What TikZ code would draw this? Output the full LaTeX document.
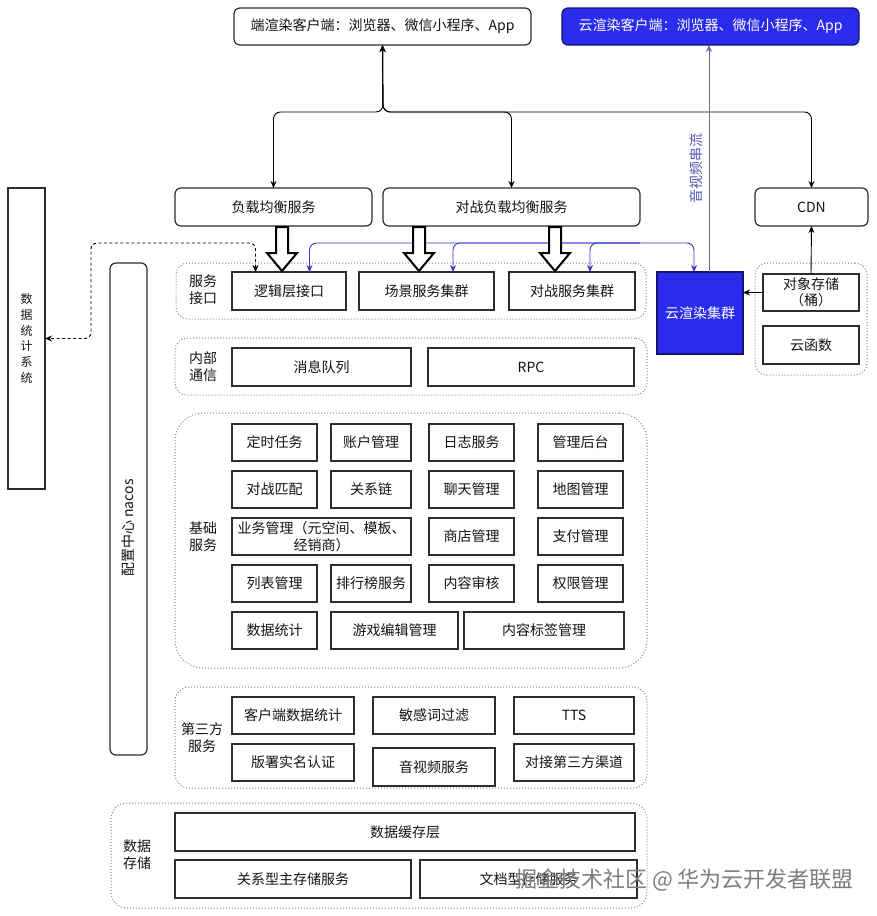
\documentclass[tikz,border=0pt]{standalone}
\usepackage{fontspec}
\setmainfont{Noto Sans CJK SC}
\usetikzlibrary{arrows.meta,calc}
\definecolor{cblue}{RGB}{43,43,235}
\definecolor{cbord}{RGB}{20,20,110}
\definecolor{lblue}{RGB}{55,55,205}
\definecolor{sgray}{RGB}{105,105,165}
\definecolor{stxt}{RGB}{85,85,185}
\definecolor{bord}{RGB}{45,45,45}
\definecolor{dgray}{RGB}{135,135,135}
\definecolor{txt}{RGB}{20,20,20}
\definecolor{wmark}{RGB}{125,125,125}
\tikzset{
  box/.style={draw=bord, line width=1.2pt, inner sep=0pt, outer sep=0pt,
    font=\fontsize{14}{16.5}\selectfont, text=txt, align=center},
  rbox/.style={box, rounded corners=6pt},
  bluebox/.style={box, fill=cblue, draw=cbord, text=white},
  grp/.style={draw=dgray, dotted, line width=1pt, inner sep=0pt, outer sep=0pt},
  glabel/.style={font=\fontsize{14}{17}\selectfont, align=center, inner sep=0pt, text=txt},
  conn/.style={draw=black, line width=0.9pt, rounded corners=7pt},
  bconn/.style={draw=lblue, line width=0.9pt, rounded corners=7pt, -{Stealth[length=7pt,width=6pt]}},
  dconn/.style={draw=black, line width=0.9pt, dash pattern=on 3pt off 2.5pt, rounded corners=6pt,
    {Stealth[length=7pt,width=6pt]}-{Stealth[length=7pt,width=6pt]}},
  bigarrow/.style={draw=black, line width=2pt, fill=white, line join=miter},
}
\newcommand\bx[7][box]{\node[#1, minimum width={(#5-#3)*1pt}, minimum height={(#6-#4)*1pt}] (#2) at ({(#3+#5)/2},{-(#4+#6)/2}) {#7};}
\newcommand\hollowarrow[1]{\draw[bigarrow] ({#1-6},-227) -- ({#1+6},-227) -- ({#1+6},-253) -- ({#1+15},-253) -- (#1,-271) -- ({#1-15},-253) -- ({#1-6},-253) -- cycle;}
\begin{document}
\begin{tikzpicture}[x=1pt,y=1pt]
\useasboundingbox (0,0) rectangle (876,-916);
\fill[white] (0,0) rectangle (876,-916);

% groups
\bx[grp, rounded corners=12pt]{gsvc}{176}{263}{646}{319}{}
\bx[grp, rounded corners=12pt]{gright}{755}{263}{867}{375}{}
\bx[grp, rounded corners=12pt]{gcomm}{175}{338}{647}{395}{}
\bx[grp, rounded corners=28pt]{gbase}{175}{413}{647}{668}{}
\bx[grp, rounded corners=14pt]{gthird}{175}{687}{647}{788}{}
\bx[grp, rounded corners=16pt]{gdata}{111}{803}{647}{908}{}

\node[glabel] (lsvc) at (203,-290) {服务\\接口};
\node[glabel] (lcomm) at (203,-367) {内部\\通信};
\node[glabel] (lbase) at (203,-537) {基础\\服务};
\node[glabel] (lthird) at (202,-738) {第三方\\服务};
\node[glabel] (ldata) at (137,-855) {数据\\存储};

% top
\bx[rbox]{top}{234}{8}{531}{45}{端渲染客户端：浏览器、微信小程序、App}
\bx[rbox, bluebox, rounded corners=6pt]{ctop}{562}{8}{859}{45}{云渲染客户端：浏览器、微信小程序、App}
\bx[rbox]{lb}{175}{188}{372}{226}{负载均衡服务}
\bx[rbox]{blb}{383}{188}{640}{226}{对战负载均衡服务}
\bx[rbox]{cdn}{755}{188}{868}{226}{CDN}

% side
\bx[box, font=\fontsize{12}{15.7}\selectfont]{stats}{8}{188}{45}{489}{数\\据\\统\\计\\系\\统}
\bx[rbox]{nacos}{110}{263}{147}{755}{}
\node[rotate=90, font=\fontsize{14}{16}\selectfont, text=txt, inner sep=0pt] (nacoslabel) at (128.5,-528) {配置中心 nacos};

% service interface
\bx{logic}{232}{272}{346}{310}{逻辑层接口}
\bx{scene}{359}{272}{494}{310}{场景服务集群}
\bx{battle}{509}{272}{635}{310}{对战服务集群}
\bx[bluebox]{cloudc}{657}{272}{743}{354}{云渲染集群}
\bx{obj}{763}{274}{859}{311}{对象存储\\（桶）}
\bx{func}{763}{326}{859}{364}{云函数}

% internal comm
\bx{mq}{232}{348}{411}{386}{消息队列}
\bx{rpc}{428}{348}{634}{386}{RPC}

% base services
\bx{b11}{232}{424}{317}{461}{定时任务}
\bx{b12}{331}{424}{411}{461}{账户管理}
\bx{b13}{429}{424}{514}{461}{日志服务}
\bx{b14}{538}{424}{623}{461}{管理后台}
\bx{b21}{232}{471}{317}{508}{对战匹配}
\bx{b22}{331}{471}{411}{508}{关系链}
\bx{b23}{429}{471}{514}{508}{聊天管理}
\bx{b24}{538}{471}{623}{508}{地图管理}
\bx[box, font=\fontsize{14}{16.5}\selectfont]{b31}{232}{518}{411}{555}{业务管理（元空间、模板、\\经销商）}
\bx{b33}{429}{518}{514}{555}{商店管理}
\bx{b34}{538}{518}{623}{555}{支付管理}
\bx{b41}{232}{565}{317}{602}{列表管理}
\bx{b42}{331}{565}{411}{602}{排行榜服务}
\bx{b43}{429}{565}{514}{602}{内容审核}
\bx{b44}{538}{565}{623}{602}{权限管理}
\bx{b51}{232}{612}{317}{649}{数据统计}
\bx{b52}{331}{612}{458}{649}{游戏编辑管理}
\bx{b53}{464}{612}{624}{649}{内容标签管理}

% third party
\bx{t11}{232}{697}{354}{734}{客户端数据统计}
\bx{t12}{373}{697}{495}{734}{敏感词过滤}
\bx{t13}{514}{697}{634}{734}{TTS}
\bx{t21}{232}{744}{354}{781}{版署实名认证}
\bx{t22}{373}{748}{495}{786}{音视频服务}
\bx{t23}{514}{744}{634}{781}{对接第三方渠道}

% data storage
\bx{cache}{175}{813}{635}{851}{数据缓存层}
\bx{rel}{175}{860}{411}{898}{关系型主存储服务}
\bx{doc}{420}{860}{637}{898}{文档型存储服务}

% top connectors
\coordinate (split) at (383,-112);
\draw[conn, {Stealth[length=7pt,width=6pt]}-{Stealth[length=7pt,width=6pt]}] (top.south) -- (split) -| (lb.north);
\draw[conn, {Stealth[length=7pt,width=6pt]}-{Stealth[length=7pt,width=6pt]}] (top.south) -- (split) -| (blb.north);
\draw[conn, {Stealth[length=7pt,width=6pt]}-{Stealth[length=7pt,width=6pt]}] (top.south) -- (split) -| (cdn.north);

% video stream
\draw[draw=sgray, line width=0.8pt, -{Stealth[length=7pt,width=6pt]}] ([xshift=9pt]cloudc.north) -- ([xshift=9pt]cloudc.north |- ctop.south);
\node[rotate=90, font=\fontsize{14}{16}\selectfont, text=stxt, inner sep=0pt] (vlabel) at (696,-168) {音视频串流};

% blue bus
\coordinate (bus) at (640,-243);
\draw[bconn] (bus) -| ([xshift=20.5pt]logic.north);
\draw[bconn] (bus) -| ([xshift=26.5pt]scene.north);
\draw[bconn] (bus) -| ([xshift=18pt]battle.north);
\draw[bconn] (bus) -| ([xshift=-6pt]cloudc.north);

% dashed to stats
\coordinate (dl) at (91,-243);
\draw[dconn] ([xshift=-33.5pt]logic.north) |- (dl) |- (stats.east);

% right cluster arrows
\draw[draw=black, line width=0.9pt, -{Stealth[length=7pt,width=6pt]}] (obj.north) -- (cdn.south);
\draw[draw=black, line width=0.9pt, -{Stealth[length=7pt,width=6pt]}] (obj.west) -- (obj.west -| cloudc.east);

% big hollow arrows
\hollowarrow{282}
\hollowarrow{419}
\hollowarrow{555}

% watermark
\node[font=\fontsize{22}{24}\selectfont, text=wmark, inner sep=0pt, anchor=west] (wm) at (515,-880) {掘金技术社区 @ 华为云开发者联盟};
\end{tikzpicture}
\end{document}
